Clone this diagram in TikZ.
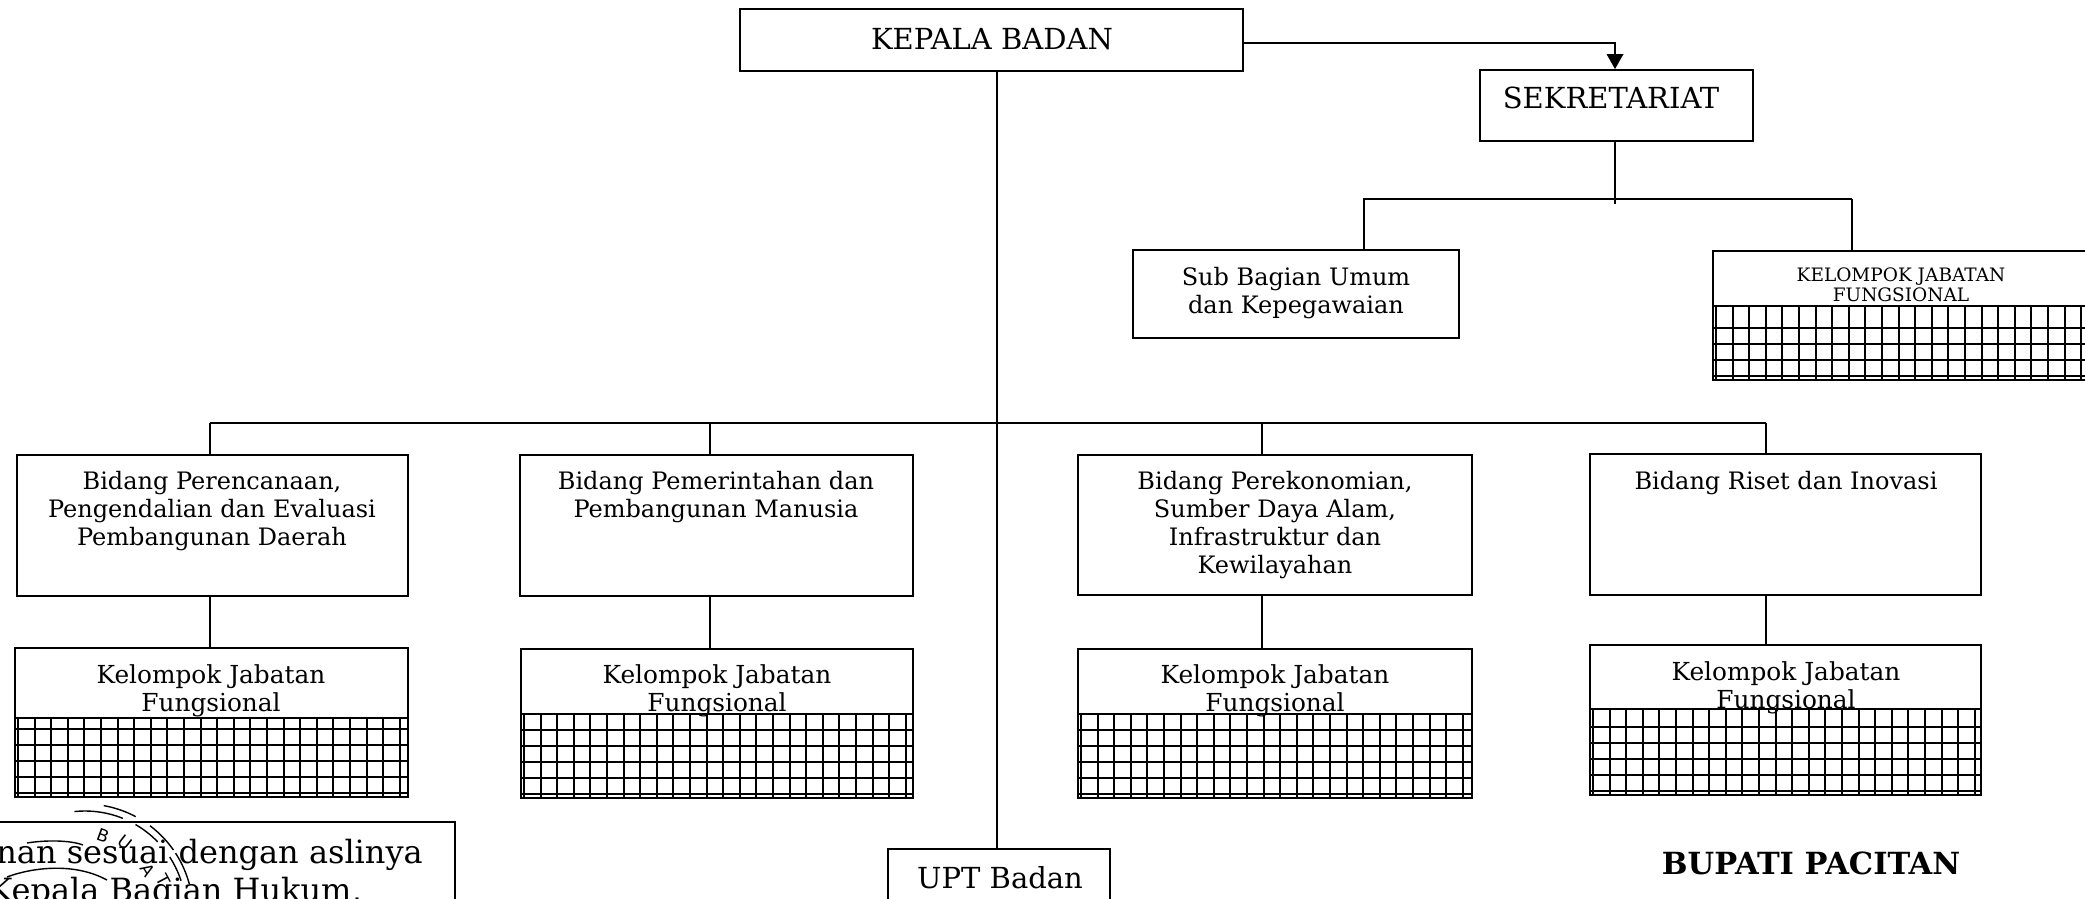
\documentclass[tikz,border=0pt]{standalone}
\usepackage{fontspec}
\setmainfont{DejaVu Serif}
\newfontfamily\stampfont{DejaVu Sans}
\tikzset{
  x=1pt,y=-1pt,
  boxnode/.style={draw=black,line width=1.9pt,inner sep=0pt,fill=none},
  wire/.style={draw=black,line width=1.6pt},
  gridline/.style={draw=black,line width=2pt},
  lbl/.style={font=\fontsize{24}{28.3}\selectfont,align=center,inner sep=0pt,text=black},
  lblgrp/.style={font=\fontsize{24.8}{28}\selectfont,align=center,inner sep=0pt,text=black},
  lblbig/.style={font=\fontsize{29}{32}\selectfont,align=center,inner sep=0pt,text=black},
  lblsmall/.style={font=\fontsize{18.5}{20}\selectfont,align=center,inner sep=0pt,text=black},
  lblatt/.style={font=\fontsize{32}{36}\selectfont,anchor=east,inner sep=0pt,text=black},
  stampline/.style={draw=black,line width=1.4pt},
  stamptext/.style={font=\stampfont\fontsize{17}{17}\selectfont,inner sep=0pt,text=black},
}
% box from its corners: name, left, top, right, bottom
\newcommand{\cornerbox}[5]{%
  \node[boxnode,minimum width={(#4-#2)*1pt},minimum height={(#5-#3)*1pt}] (#1) at ({(#2+#4)/2},{(#3+#5)/2}) {};
}
% #1 name, #2 left, #3 top, #4 grid top, #5 right, #6 bottom
\newcommand{\jabatan}[6]{%
  \begin{scope}
    \clip (#2,#4) rectangle (#5,#6);
    \foreach \gx in {0,1,...,24} {\draw[gridline] ({#2+3+\gx*16.6},#4) -- ({#2+3+\gx*16.6},#6);}
    \foreach \gy in {0,1,...,5} {
      \pgfmathsetmacro{\liney}{#6-4-\gy*16}
      \pgfmathparse{\liney>#4+10?1:0}
      \ifnum\pgfmathresult=1 \draw[gridline] (#2,\liney) -- (#5,\liney);\fi
    }
  \end{scope}
  \draw[boxnode] (#2,#4) -- (#5,#4);
  \cornerbox{#1}{#2}{#3}{#5}{#6}
}
% stamp ring segment: radius, start angle, end angle
\newcommand{\ring}[3]{%
  \draw[stampline] plot[domain=#2:#3,samples=14,smooth] ({85+#1*cos(\x)},{912-#1*sin(\x)});
}
\begin{document}
\begin{tikzpicture}
\useasboundingbox (0,0) rectangle (2085,899);
\fill[white] (0,0) rectangle (2085,899);

% top
\cornerbox{kb}{740}{9}{1243}{71}
\node[lblbig] (kbt) at (992,39) {KEPALA BADAN};
\cornerbox{sek}{1480}{70}{1753}{141}
\node[lblbig] (sekt) at (1611,98) {SEKRETARIAT};
\coordinate (sekx) at (1615,43);
\coordinate (sekj) at (1615,204);
\draw[wire] (kb.east |- sekx) -- (sekx) -- ++(0,13);
\fill[black] (sekx |- sek.north) -- ++(-8.5,-15) -- ++(17,0) -- cycle;
\draw[wire] (sekx |- sek.south) -- (sekj);

\cornerbox{sub}{1133}{250}{1459}{338}
\node[lbl] (subt) at (1296,293) {Sub Bagian Umum\\dan Kepegawaian};
\coordinate (subx) at (1364,199);
\coordinate (gsx) at (1852,199);
\draw[wire] (subx |- sub.north) -- (subx) -- (gsx);

% top right group
\jabatan{gs}{1713}{251}{306}{2090}{380}
\node[lblsmall] (gst) at (1901,285) {KELOMPOK JABATAN\\FUNGSIONAL};
\draw[wire] (gsx) -- (gsx |- gs.north);

% bidang boxes
\cornerbox{b1}{17}{455}{408}{596}
\node[lbl] (b1t) at (212,511) {Bidang Perencanaan,\\Pengendalian dan Evaluasi\\Pembangunan Daerah};
\cornerbox{b2}{520}{455}{913}{596}
\node[lbl] (b2t) at (716,497) {Bidang Pemerintahan dan\\Pembangunan Manusia};
\cornerbox{b3}{1078}{455}{1472}{595}
\node[lbl] (b3t) at (1275,525) {Bidang Perekonomian,\\Sumber Daya Alam,\\Infrastruktur dan\\Kewilayahan};
\cornerbox{b4}{1590}{454}{1981}{595}
\node[lbl] (b4t) at (1786,483) {Bidang Riset dan Inovasi};

% groups
\jabatan{g1}{15}{648}{718}{408}{797}
\jabatan{g2}{521}{649}{714}{913}{798}
\jabatan{g3}{1078}{649}{714}{1472}{798}
\jabatan{g4}{1590}{645}{709}{1981}{795}
\node[lblgrp] (g1t) at (211,691) {Kelompok Jabatan\\Fungsional};
\node[lblgrp] (g2t) at (717,691) {Kelompok Jabatan\\Fungsional};
\node[lblgrp] (g3t) at (1275,691) {Kelompok Jabatan\\Fungsional};
\node[lblgrp] (g4t) at (1786,688) {Kelompok Jabatan\\Fungsional};

% main trunk and branches
\cornerbox{upt}{888}{849}{1110}{905}
\node[lblbig] (uptt) at (1000,878) {UPT Badan};
\coordinate (trunk) at (997,423);
\coordinate (j1) at (210,423);
\coordinate (j2) at (710,423);
\coordinate (j3) at (1262,423);
\coordinate (j4) at (1766,423);
\draw[wire] (trunk |- kb.south) -- (trunk |- upt.north);
\draw[wire] (j1) -- (j4);
\draw[wire] (j1) -- (j1 |- b1.north);
\draw[wire] (j2) -- (j2 |- b2.north);
\draw[wire] (j3) -- (j3 |- b3.north);
\draw[wire] (j4) -- (j4 |- b4.north);
\draw[wire] (j1 |- b1.south) -- (j1 |- g1.north);
\draw[wire] (j2 |- b2.south) -- (j2 |- g2.north);
\draw[wire] (j3 |- b3.south) -- (j3 |- g3.north);
\draw[wire] (j4 |- b4.south) -- (j4 |- g4.north);

% Bupati
\node[font=\bfseries\fontsize{30.5}{32}\selectfont,inner sep=0pt,text=black] (bup) at (1811,863) {BUPATI PACITAN};

% stamp
\ring{108}{80}{62}
\ring{108}{53}{35}
\ring{108}{33}{15}
\ring{101}{96}{68}
\ring{101}{60}{44}
\ring{101}{33}{18}
\draw[stampline] (27,843) .. controls (45,840) and (70,840) .. (83,845);
\draw[stampline] (7,877) .. controls (25,870) and (70,860) .. (107,880);
\node[stamptext,rotate=-20] (sa) at (103,836) {B};
\node[stamptext,rotate=-38] (sb) at (125,843) {U};
\node[stamptext,rotate=-58] (sc) at (148,870) {A};
\node[stamptext,rotate=-62] (sd) at (163,880) {T};

% attestation box
\cornerbox{att}{-5}{822}{455}{905}
\node[lblatt] (s1) at (423,855) {nan sesuai dengan aslinya};
\node[lblatt] (s2) at (362,893) {Kepala Bagian Hukum,};
\end{tikzpicture}
\end{document}
